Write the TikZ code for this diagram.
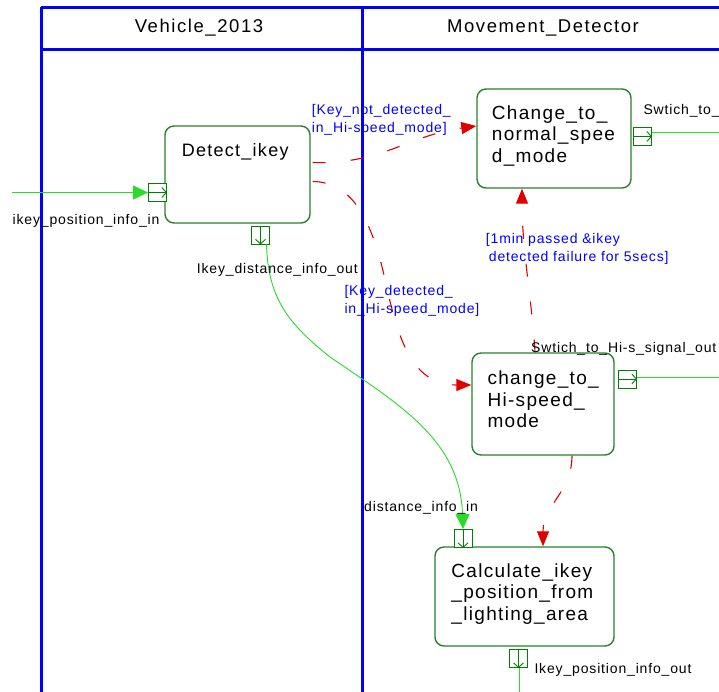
\documentclass[tikz,border=0pt]{standalone}
\usepackage{fontspec}
\setmainfont{Liberation Sans}
\newfontfamily\boxfont{Liberation Sans}[LetterSpace=7]
\newfontfamily\hdrfont{Liberation Sans}[LetterSpace=8.5]
\newfontfamily\lblfont{Liberation Sans}[LetterSpace=6]
\usetikzlibrary{arrows.meta,calc}
\definecolor{lanecol}{RGB}{0,0,255}
\definecolor{boxgreen}{RGB}{40,130,40}
\definecolor{portgreen}{RGB}{0,128,0}
\definecolor{flowgreen}{RGB}{40,220,40}
\definecolor{transred}{RGB}{225,0,0}
\definecolor{guardblue}{RGB}{0,0,255}

\begin{document}
\begin{tikzpicture}[x=1pt,y=-1pt,
  lane/.style={draw=lanecol,line width=3pt},
  hdr/.style={font=\hdrfont\fontsize{18.5}{21}\selectfont,inner sep=0,anchor=base},
  state/.style={draw=boxgreen,line width=1.4pt,rounded corners=9pt,fill=white,inner sep=0},
  stxt/.style={font=\boxfont\fontsize{19}{21.3}\selectfont,inner sep=0,anchor=north west,align=left},
  port/.style={draw=portgreen,line width=0.9pt,minimum size=18pt,inner sep=0,fill=white},
  portmark/.style={draw=portgreen,line width=0.9pt,-{Straight Barb[length=4.5pt,width=10pt]}},
  flowline/.style={draw=flowgreen,line width=0.9pt},
  flow/.style={flowline,-{Triangle[length=15pt,width=14pt]}},
  trans/.style={draw=transred,line width=1.1pt,dash pattern=on 13pt off 25pt,-{Triangle[length=15pt,width=12pt]}},
  lbl/.style={font=\lblfont\fontsize{14}{18}\selectfont,inner sep=0,anchor=base west,text=black},
  guard/.style={font=\lblfont\fontsize{14}{18}\selectfont,inner sep=0,anchor=north west,align=left,text=guardblue}
]
\useasboundingbox (0,0) rectangle (719,692);
\clip (0,0) rectangle (719,692);

% swimlanes
\draw[lane] (41,7.5) -- (719,7.5);
\draw[lane] (41,49.5) -- (719,49.5);
\draw[lane] (41,7.5) -- (41,692);
\draw[lane] (362,7.5) -- (362,692);
\node[hdr] (laneA) at (199,32.5) {Vehicle\_2013};
\node[hdr] (laneB) at (543,32.5) {Movement\_Detector};

% states
\node[state,minimum width=145pt,minimum height=97pt] (det) at (237.5,174.5) {};
\node[state,minimum width=154pt,minimum height=99pt] (nrm) at (554,138.5) {};
\node[state,minimum width=142pt,minimum height=102pt] (hi) at (543,404) {};
\node[state,minimum width=179pt,minimum height=99pt] (calc) at (524.5,596.5) {};

\node[stxt,font=\boxfont\fontsize{18}{21}\selectfont] (detT) at (181.7,143.3) {Detect\_ikey};
\node[stxt] (nrmT) at (491.7,105.5) {Change\_to\_\\normal\_spee\\d\_mode};
\node[stxt] (hiT) at (487.3,371) {change\_to\_\\Hi-speed\_\\mode};
\node[stxt] (calcT) at (451.2,563.5) {Calculate\_ikey\\\_position\_from\\\_lighting\_area};

% ports
\node[port] (dIn) at (157.5,192.5) {};
\node[port] (dOut) at (260.5,235) {};
\node[port] (nOut) at (642.5,136.5) {};
\node[port] (hOut) at (627.5,379) {};
\node[port] (cIn) at (463,538.5) {};
\node[port] (cOut) at (518.5,658.5) {};
\draw[portmark] (dIn.west) -- (dIn.east);
\draw[portmark] (dOut.north) -- (dOut.south);
\draw[portmark] (nOut.west) -- (nOut.east);
\draw[portmark] (hOut.west) -- (hOut.east);
\draw[portmark] (cIn.north) -- (cIn.south);
\draw[portmark] (cOut.north) -- (cOut.south);

% data flows
\coordinate (inSrc) at (12,192.5);
\coordinate (bend) at (330,357);
\coordinate (nOutEnd) at (719,132);
\coordinate (hOutEnd) at (719,377.7);
\coordinate (cOutEnd) at (519.5,692);
\draw[flow] (inSrc) -- (dIn.west);
\draw[flow] ([xshift=6pt]dOut.south) .. controls (268,300) and (290,325) .. (bend)
  .. controls (400,405) and (460,440) .. (cIn.north);
\draw[flowline] ([yshift=4.5pt]nOut.east) -- (nOutEnd);
\draw[flowline] ([yshift=1.3pt]hOut.east) -- (hOutEnd);
\draw[flowline] ([xshift=1pt]cOut.south) -- (cOutEnd);

% transitions
\coordinate (mid) at (384,275);
\draw[trans] ([xshift=2pt,yshift=12pt]det.east) .. controls (380,165) and (410,135) .. ([yshift=12.5pt]nrm.west);
\draw[trans] ([xshift=2pt,yshift=-7pt]det.east) .. controls (350,182) and (370,215) .. (mid)
  .. controls (397,335) and (410,385) .. ([yshift=19pt]hi.west);
\draw[trans] ([xshift=-8pt]hi.north) .. controls (532,300) and (522,250) .. ([xshift=-32pt]nrm.south);
\draw[trans] ([xshift=29pt]hi.south) .. controls (572,492) and (543,505) .. ([xshift=18.5pt]calc.north);

% guards
\node[guard] (g1) at (311.7,104.1) {[Key\_not\_detected\_\\in\_Hi-speed\_mode]};
\node[guard] (g2) at (485.7,233.1) {[1min passed \&ikey\\\hspace{3pt}detected failure for 5secs]};
\node[guard] (g3) at (344.3,284.8) {[Key\_detected\_\\in\_Hi-speed\_mode]};

% port labels
\node[lbl] (l1) at (12.5,224.3) {ikey\_position\_info\_in};
\node[lbl] (l2) at (196.7,273.3) {Ikey\_distance\_info\_out};
\node[lbl] (l3) at (643.3,114.3) {Swtich\_to\_n};
\node[lbl] (l4) at (531,352.7) {Swtich\_to\_Hi-s\_signal\_out};
\node[lbl] (l5) at (364,511) {distance\_info\_in};
\node[lbl] (l6) at (534.3,673.3) {Ikey\_position\_info\_out};
\end{tikzpicture}
\end{document}
